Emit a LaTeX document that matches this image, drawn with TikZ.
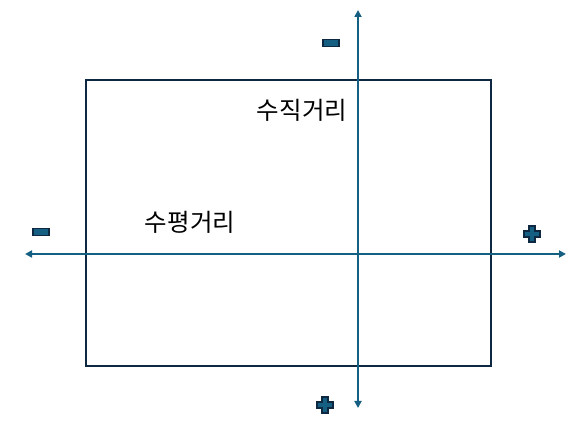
\documentclass[tikz,border=0pt]{standalone}
\usepackage{fontspec}
\newfontfamily\kr{Noto Sans CJK KR}
\usetikzlibrary{arrows.meta}
\definecolor{navy}{HTML}{0E2841}
\definecolor{axisblue}{HTML}{156082}
\tikzset{
  frame/.style={draw=navy, line width=1.8pt},
  axis/.style={draw=axisblue, line width=1.8pt, {Triangle[length=7pt,width=7pt]}-{Triangle[length=7pt,width=7pt]}},
  sign/.style={fill=axisblue, draw=navy, line width=1.4pt},
  lbl/.style={font=\kr\fontsize{24.5pt}{27pt}\selectfont, inner sep=0pt, text=black}
}
\newcommand{\minussign}[2]{\filldraw[sign] (#1-8,#2-3.7) rectangle (#1+8,#2+3.7);}
\newcommand{\plussign}[2]{\filldraw[sign] (#1-2.9,#2-8) -- (#1+2.9,#2-8) -- (#1+2.9,#2-2.9) -- (#1+8,#2-2.9) -- (#1+8,#2+2.9) -- (#1+2.9,#2+2.9) -- (#1+2.9,#2+8) -- (#1-2.9,#2+8) -- (#1-2.9,#2+2.9) -- (#1-8,#2+2.9) -- (#1-8,#2-2.9) -- (#1-2.9,#2-2.9) -- cycle;}
\begin{document}
\begin{tikzpicture}[x=1pt,y=-1pt]
\useasboundingbox (0,0) rectangle (576,438);
\draw[frame] (86,80) rectangle (491,366);
\coordinate (L) at (25,254);
\coordinate (R) at (566,254);
\coordinate (T) at (358,10);
\coordinate (B) at (358,408);
\draw[axis] (L) -- (R);
\draw[axis] (B) -- (T);
\minussign{331}{43}
\minussign{41}{232}
\plussign{532}{234}
\plussign{325}{405}
\node[lbl] (v) at (302,110) {수직거리};
\node[lbl] (h) at (190,222) {수평거리};
\end{tikzpicture}
\end{document}
